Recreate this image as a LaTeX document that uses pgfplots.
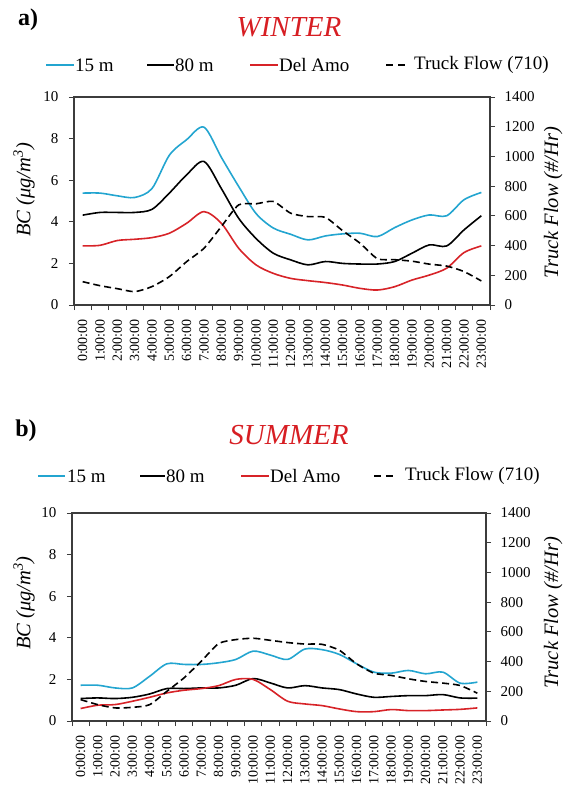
\documentclass[border=0pt]{standalone}
\usepackage{fontspec}
\setmainfont{Liberation Serif}
\usepackage{pgfplots}
\pgfplotsset{compat=1.18}
\definecolor{cyanline}{RGB}{35,165,208}
\definecolor{redline}{RGB}{215,35,40}
\definecolor{titlered}{RGB}{215,30,35}
\definecolor{axgray}{RGB}{60,60,60}

\pgfplotsset{
  common/.style={
    scale only axis, width=#1, height=208pt,
    xmin=-0.5, xmax=23.5,
    /pgf/number format/assume math mode=true,
    /pgf/number format/1000 sep={},
    tick align=outside,
    major tick length=5pt, minor tick length=5pt,
    tick style={axgray, line width=0.8pt},
    axis line style={axgray, line width=1.5pt},
    y tick label style={font=\fontsize{15}{15}\selectfont},
    ylabel style={font=\fontsize{20.5}{20.5}\selectfont\itshape},
  },
  bcaxis/.style={
    common=#1,
    ymin=0, ymax=10, ytick={0,2,...,10},
    xtick={0,...,23},
    xticklabels={0:00:00,1:00:00,2:00:00,3:00:00,4:00:00,5:00:00,6:00:00,7:00:00,8:00:00,9:00:00,10:00:00,11:00:00,12:00:00,13:00:00,14:00:00,15:00:00,16:00:00,17:00:00,18:00:00,19:00:00,20:00:00,21:00:00,22:00:00,23:00:00},
    minor xtick={-0.5,0.5,...,23.5},
    major x tick style={draw=none},
    xtick pos=bottom, ytick pos=left,
    x tick label style={rotate=90, anchor=east, font=\fontsize{14}{14}\selectfont, inner sep=1pt, xshift=0pt},
    xticklabel shift=8pt,
    yticklabel shift=7pt,
    ylabel={BC (μg/m\textsuperscript{3})},
  },
  truckaxis/.style={
    common=#1,
    ymin=0, ymax=1400, ytick={0,200,...,1400},
    axis x line=none, axis y line*=right, ytick pos=right,
    yticklabel shift=6pt,
    ylabel={Truck Flow (\#/Hr)},
  },
  bcline/.style={line width=1.6pt, smooth, tension=0.5, no marks},
  truckline/.style={black, line width=1.6pt, dash pattern=on 7pt off 4pt, smooth, tension=0.4, no marks},
}

\newcommand{\legfont}{\fontsize{19}{19}\selectfont}

\begin{document}
\begin{tikzpicture}
\useasboundingbox (0pt,-788pt) rectangle (569pt,0pt);

% ---------------- WINTER ----------------
\node[font=\fontsize{24}{24}\selectfont\bfseries] at (28pt,-20pt) {a)};
\node[font=\fontsize{29}{29}\selectfont\itshape, text=titlered, anchor=base] at (289pt,-36pt) {WINTER};

\draw[cyanline, line width=1.6pt] (46pt,-65pt) -- (74pt,-65pt);
\node[anchor=west, inner sep=1pt, font=\legfont] at (74pt,-65pt) {15 m};
\draw[black, line width=1.6pt] (147pt,-65pt) -- (174pt,-65pt);
\node[anchor=west, inner sep=1pt, font=\legfont] at (174pt,-65pt) {80 m};
\draw[redline, line width=1.6pt] (250pt,-65pt) -- (278pt,-65pt);
\node[anchor=west, inner sep=1pt, font=\legfont] at (278pt,-65pt) {Del Amo};
\draw[black, line width=1.6pt, dash pattern=on 7pt off 5pt] (386pt,-65pt) -- (405pt,-65pt);
\node[anchor=west, inner sep=1pt, font=\legfont] at (413pt,-65pt) {Truck Flow (710)};

\begin{axis}[bcaxis=416pt, at={(74pt,-97pt)}, anchor=north west,
  ylabel style={at={(axis description cs:-0.120,0.553)}, anchor=center}]
\addplot[bcline, cyanline] coordinates {
(0,5.38)(1,5.38)(2,5.25)(3,5.17)(4,5.6)(5,7.2)(6,7.95)(7,8.55)(8,7.1)(9,5.7)(10,4.4)(11,3.7)
(12,3.4)(13,3.13)(14,3.32)(15,3.42)(16,3.45)(17,3.29)(18,3.72)(19,4.09)(20,4.33)(21,4.29)(22,5.06)(23,5.41)};
\addplot[bcline, black] coordinates {
(0,4.32)(1,4.45)(2,4.45)(3,4.45)(4,4.6)(5,5.38)(6,6.26)(7,6.9)(8,5.6)(9,4.17)(10,3.2)(11,2.49)
(12,2.17)(13,1.93)(14,2.09)(15,2.0)(16,1.97)(17,1.97)(18,2.09)(19,2.49)(20,2.89)(21,2.84)(22,3.61)(23,4.29)};
\addplot[bcline, redline] coordinates {
(0,2.84)(1,2.87)(2,3.1)(3,3.16)(4,3.24)(5,3.45)(6,3.93)(7,4.49)(8,3.93)(9,2.73)(10,1.93)(11,1.52)
(12,1.28)(13,1.17)(14,1.08)(15,0.96)(16,0.8)(17,0.72)(18,0.88)(19,1.2)(20,1.44)(21,1.77)(22,2.52)(23,2.84)};
\end{axis}
\begin{axis}[truckaxis=416pt, at={(74pt,-97pt)}, anchor=north west,
  ylabel style={at={(axis description cs:1.152,0.493)}, anchor=center}]
\addplot[truckline] coordinates {
(0,157)(1,130)(2,110)(3,90)(4,124)(5,191)(6,292)(7,382)(8,528)(9,674)(10,681)(11,697)
(12,618)(13,595)(14,590)(15,500)(16,416)(17,312)(18,305)(19,295)(20,275)(21,262)(22,225)(23,162)};
\end{axis}

% ---------------- SUMMER ----------------
\node[font=\fontsize{24}{24}\selectfont\bfseries] at (26pt,-431pt) {b)};
\node[font=\fontsize{29}{29}\selectfont\itshape, text=titlered, anchor=base] at (289pt,-444pt) {SUMMER};

\draw[cyanline, line width=1.6pt] (38pt,-476pt) -- (65pt,-476pt);
\node[anchor=west, inner sep=1pt, font=\legfont] at (66pt,-476pt) {15 m};
\draw[black, line width=1.6pt] (140pt,-476pt) -- (165pt,-476pt);
\node[anchor=west, inner sep=1pt, font=\legfont] at (165pt,-476pt) {80 m};
\draw[redline, line width=1.6pt] (241pt,-476pt) -- (269pt,-476pt);
\node[anchor=west, inner sep=1pt, font=\legfont] at (269pt,-476pt) {Del Amo};
\draw[black, line width=1.6pt, dash pattern=on 7pt off 5pt] (374pt,-476pt) -- (397pt,-476pt);
\node[anchor=west, inner sep=1pt, font=\legfont] at (404pt,-476pt) {Truck Flow (710)};

\begin{axis}[bcaxis=414pt, at={(72pt,-513pt)}, anchor=north west,
  ylabel style={at={(axis description cs:-0.116,0.567)}, anchor=center}]
\addplot[bcline, cyanline] coordinates {
(0,1.72)(1,1.72)(2,1.59)(3,1.59)(4,2.15)(5,2.75)(6,2.72)(7,2.72)(8,2.8)(9,2.96)(10,3.36)(11,3.17)
(12,2.96)(13,3.46)(14,3.43)(15,3.2)(16,2.75)(17,2.35)(18,2.3)(19,2.43)(20,2.27)(21,2.35)(22,1.82)(23,1.87)};
\addplot[bcline, black] coordinates {
(0,1.08)(1,1.11)(2,1.08)(3,1.14)(4,1.3)(5,1.56)(6,1.56)(7,1.59)(8,1.59)(9,1.72)(10,2.04)(11,1.83)
(12,1.59)(13,1.7)(14,1.59)(15,1.51)(16,1.3)(17,1.14)(18,1.18)(19,1.22)(20,1.22)(21,1.27)(22,1.11)(23,1.1)};
\addplot[bcline, redline] coordinates {
(0,0.6)(1,0.76)(2,0.79)(3,0.95)(4,1.14)(5,1.35)(6,1.48)(7,1.56)(8,1.7)(9,2.0)(10,2.0)(11,1.51)
(12,0.95)(13,0.82)(14,0.74)(15,0.58)(16,0.45)(17,0.45)(18,0.55)(19,0.5)(20,0.5)(21,0.53)(22,0.56)(23,0.63)};
\end{axis}
\begin{axis}[truckaxis=414pt, at={(72pt,-513pt)}, anchor=north west,
  ylabel style={at={(axis description cs:1.162,0.52)}, anchor=center}]
\addplot[truckline] coordinates {
(0,144)(1,110)(2,88)(3,92)(4,110)(5,200)(6,291)(7,403)(8,521)(9,548)(10,557)(11,543)
(12,528)(13,518)(14,516)(15,476)(16,385)(17,322)(18,307)(19,284)(20,266)(21,255)(22,239)(23,187)};
\end{axis}
\end{tikzpicture}
\end{document}
